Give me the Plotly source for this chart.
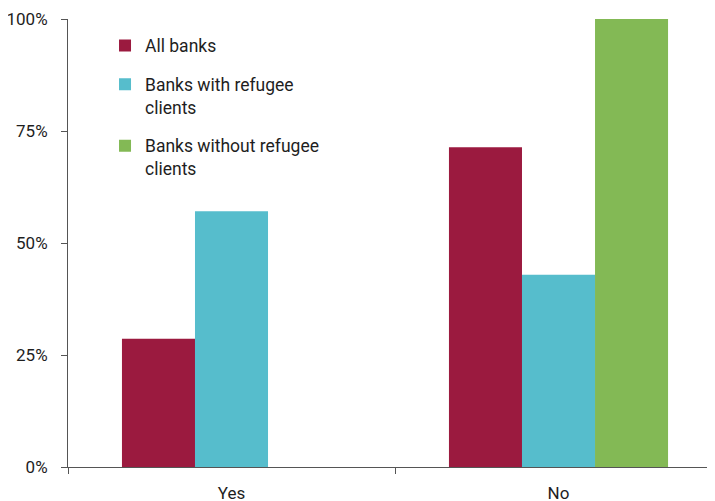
import plotly.graph_objects as go

categories = ["Yes", "No"]
series_names = ["All banks", "Banks with refugee<br>clients", "Banks without refugee<br>clients"]
all_banks = [0.286, 0.714]
with_refugee = [0.571, 0.429]
without_refugee = [0.0, 1.0]
colors = ["#9B1A3F", "#56BDCC", "#83B955"]
y_ticks = [0, 0.25, 0.5, 0.75, 1.0]
y_tick_labels = ["0%", "25%", "50%", "75%", "100%"]

fig = go.Figure()
for i, (name, vals) in enumerate(zip(series_names, [all_banks, with_refugee, without_refugee])):
    fig.add_trace(go.Bar(x=categories, y=vals, name=name, marker_color=colors[i],
                         marker_line_width=0, legendgroup=f"g{i}"))

fig.update_layout(
    width=715, height=501,
    margin=dict(l=60, r=1, t=11, b=42),
    plot_bgcolor="white", paper_bgcolor="white",
    barmode="group", bargap=0.33, bargroupgap=0,
    font=dict(family="Roboto", size=17, color="#1e1e1e"),
    legend=dict(x=0.0566, y=0.981, xanchor="left", yanchor="top",
                bgcolor="rgba(0,0,0,0)", tracegroupgap=13, valign="top",
                font=dict(size=17.5)),
    showlegend=True,
)
fig.update_xaxes(range=[-0.5, 1.5], showline=True, linecolor="#555", linewidth=1,
                 ticks="outside", tickson="boundaries", ticklen=6, tickcolor="#555",
                 showgrid=False, zeroline=False, automargin=False, ticklabelstandoff=11)
fig.update_yaxes(range=[0, 1], tickvals=y_ticks, ticktext=y_tick_labels,
                 showline=True, linecolor="#555", linewidth=1,
                 ticks="outside", ticklen=6, tickcolor="#555",
                 showgrid=False, zeroline=False, automargin=False, ticklabelstandoff=10)

fig.write_html("out.html")
